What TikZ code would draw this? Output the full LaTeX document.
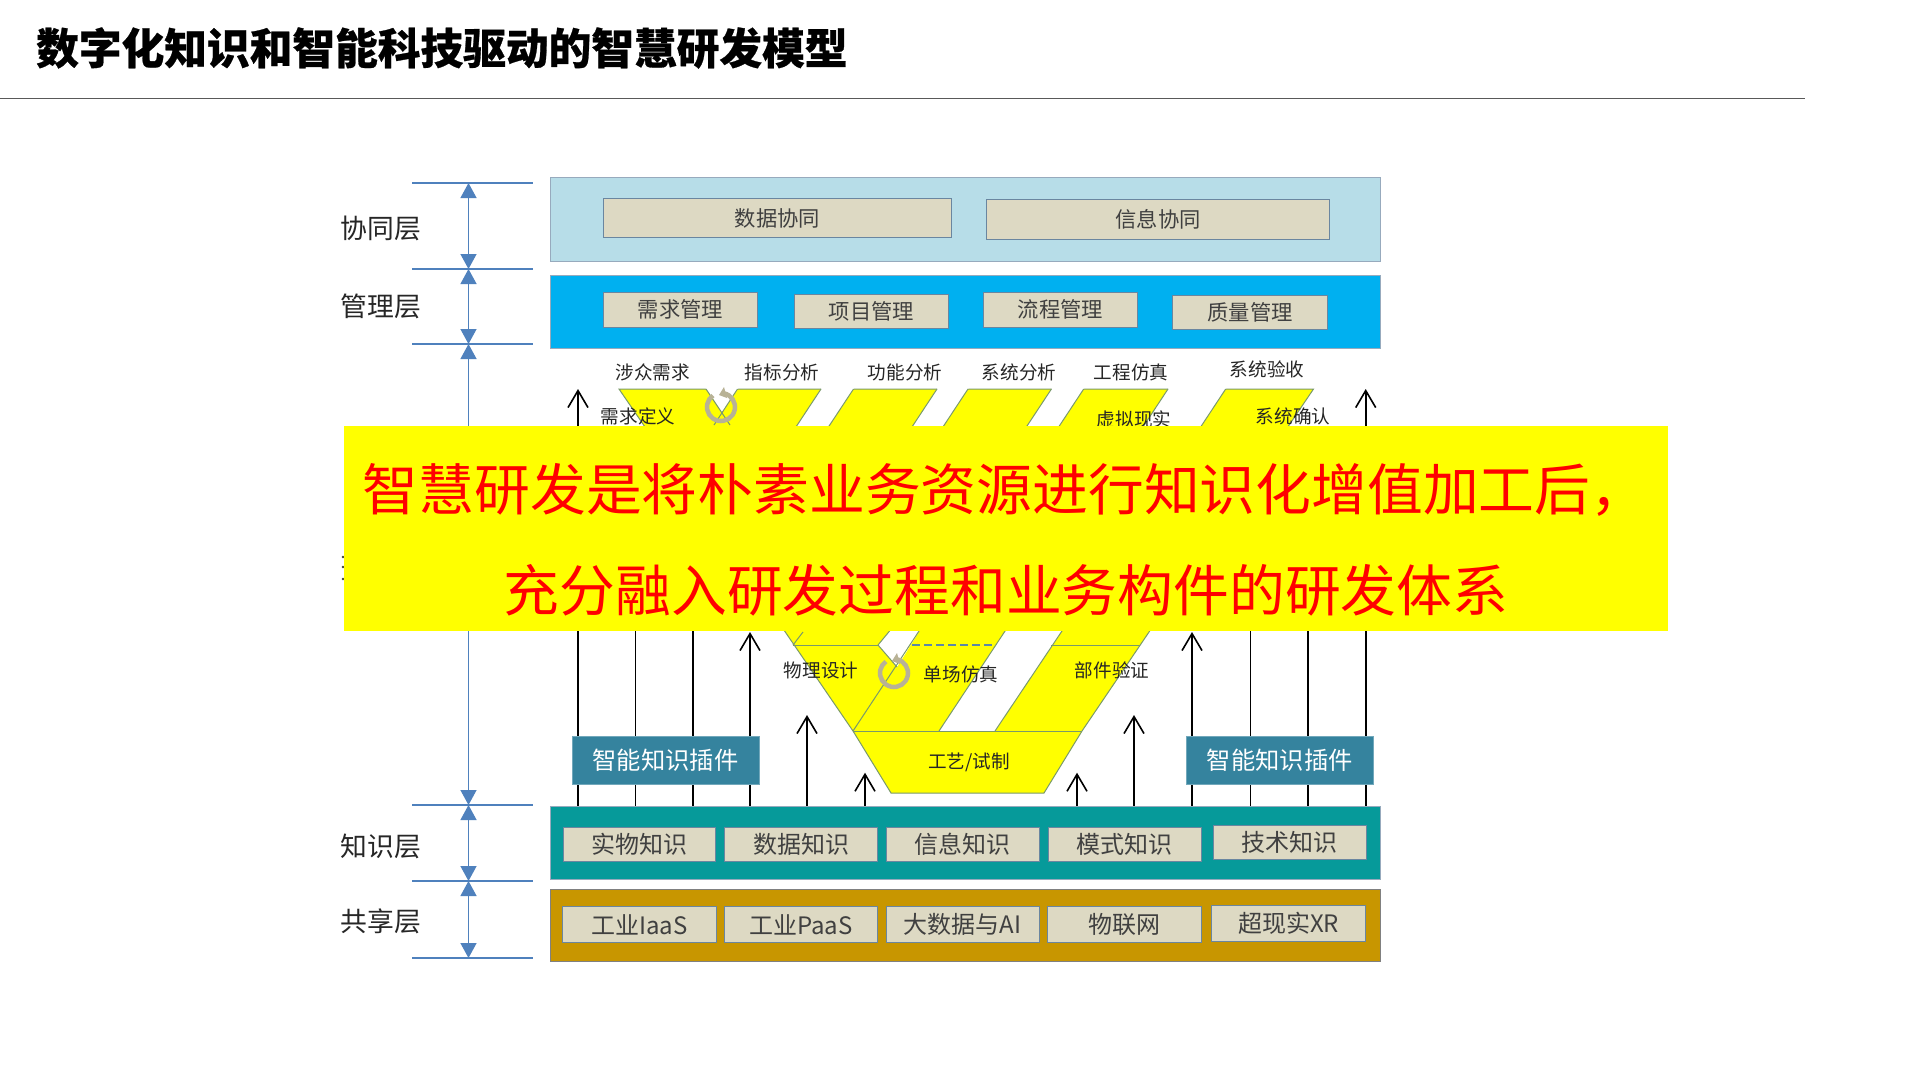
\documentclass[tikz,border=0pt]{standalone}
\usepackage{fontspec}
\setmainfont{Noto Sans CJK SC}
\usetikzlibrary{arrows.meta}
\definecolor{cobandc}{HTML}{B7DDE8}
\definecolor{mgmtbandc}{HTML}{00B0F0}
\definecolor{knowbandc}{HTML}{069A9A}
\definecolor{sharebandc}{HTML}{C89600}
\definecolor{itemc}{HTML}{DDD9C3}
\definecolor{itemedge}{HTML}{6A86A0}
\definecolor{rulerc}{HTML}{4F81BD}
\definecolor{plugc}{HTML}{35839E}
\definecolor{vedgec}{HTML}{7A9A6A}
\definecolor{ringc}{HTML}{B8B296}
\definecolor{dashc}{HTML}{5B87A8}
\definecolor{yellowc}{HTML}{FFFF00}
\tikzset{
  band/.style={draw=itemedge!70,line width=0.8pt,inner sep=0pt},
  itembox/.style={draw=itemedge,line width=0.9pt,fill=itemc,inner sep=0pt,text=black!75},
  smallfont/.style={font=\fontsize{21.3}{25}\selectfont},
  bigfont/.style={font=\fontsize{24}{28}\selectfont},
  steplabel/.style={inner sep=0pt,text=black!85,font=\fontsize{18.6}{22}\selectfont},
  layerlabel/.style={inner sep=0pt,text=black!85,font=\fontsize{26.8}{30}\selectfont},
  plugbox/.style={fill=plugc,draw=plugc!70!white,line width=0.8pt,inner sep=0pt,text=white,font=\fontsize{24.3}{28}\selectfont,minimum width=187pt,minimum height=47.5pt},
  rulerline/.style={draw=rulerc,line width=1.5pt},
  rulerarrow/.style={draw=rulerc,line width=1.3pt,{Triangle[length=15pt,width=16pt,fill=rulerc]}-{Triangle[length=15pt,width=16pt,fill=rulerc]}},
  uparrow/.style={draw=black,line width=1.6pt,-{Straight Barb[length=17pt,width=20pt,line width=1.6pt]}},
  vedge/.style={draw=vedgec,line width=1pt},
  ringline/.style={draw=ringc,line width=4.5pt},
  bigline/.style={inner sep=0pt,text=red,font=\fontsize{55.8}{60}\selectfont}
}
\begin{document}
\begin{tikzpicture}[x=1pt,y=-1pt]
\useasboundingbox (0,0) rectangle (1919,1080);
\fill[white] (0,0) rectangle (1919,1080);

\node[anchor=west,inner sep=0pt,font=\fontsize{42.7}{48}\selectfont\bfseries\addfontfeatures{FakeBold=0.6}] (title) at (36,48) {数字化知识和智能科技驱动的智慧研发模型};
\coordinate (ruleleft) at (0,98.7);
\coordinate (ruleright) at (1805,98.7);
\draw[draw=black!65,line width=1pt] (ruleleft) -- (ruleright);

\node[band,fill=cobandc,minimum width=830pt,minimum height=84pt] (coband) at (965.5,219) {};
\node[band,fill=mgmtbandc,minimum width=830pt,minimum height=73pt] (mgmtband) at (965.5,311.5) {};
\node[band,fill=knowbandc,minimum width=830pt,minimum height=73pt] (knowband) at (965.5,842.5) {};
\node[band,fill=sharebandc,draw=black!50,minimum width=830pt,minimum height=72pt] (shareband) at (965.5,925) {};

\node[itembox,smallfont,minimum width=348pt,minimum height=39pt] (codata) at (777.5,218) {数据协同};
\node[itembox,smallfont,minimum width=343pt,minimum height=40pt] (coinfo) at (1158,219) {信息协同};

\node[itembox,smallfont,minimum width=154pt,minimum height=35pt] (mgreq) at (680.5,309.5) {需求管理};
\node[itembox,smallfont,minimum width=154pt,minimum height=34pt] (mgproj) at (871.5,311) {项目管理};
\node[itembox,smallfont,minimum width=154pt,minimum height=35pt] (mgflow) at (1060.5,309.5) {流程管理};
\node[itembox,smallfont,minimum width=155pt,minimum height=34pt] (mgqual) at (1250,312) {质量管理};

\node[itembox,bigfont,minimum width=152pt,minimum height=34pt] (knthing) at (639.5,844.5) {实物知识};
\node[itembox,bigfont,minimum width=153pt,minimum height=34pt] (kndata) at (801,844.5) {数据知识};
\node[itembox,bigfont,minimum width=153pt,minimum height=34pt] (kninfo) at (962.5,844.5) {信息知识};
\node[itembox,bigfont,minimum width=153pt,minimum height=34pt] (knmode) at (1124.5,844.5) {模式知识};
\node[itembox,bigfont,minimum width=153pt,minimum height=34pt] (kntech) at (1289.5,842) {技术知识};

\node[itembox,bigfont,minimum width=154pt,minimum height=36pt] (shiaas) at (639.5,924.5) {工业IaaS};
\node[itembox,bigfont,minimum width=153pt,minimum height=36pt] (shpaas) at (801,924.5) {工业PaaS};
\node[itembox,bigfont,minimum width=153pt,minimum height=36pt] (shai) at (962.5,924.5) {大数据与AI};
\node[itembox,bigfont,minimum width=154pt,minimum height=36pt] (shiot) at (1124,924.5) {物联网};
\node[itembox,bigfont,minimum width=154pt,minimum height=36pt] (shxr) at (1288.5,923.5) {超现实XR};

\foreach \n/\y in {a/183,b/269,c/344,d/805,e/881,f/958}{
  \coordinate (rl\n) at (412,\y);
  \coordinate (rr\n) at (533,\y);
  \coordinate (rm\n) at (468.5,\y);
  \draw[rulerline] (rl\n) -- (rr\n);
}
\draw[rulerarrow] (rma) -- (rmb);
\draw[rulerarrow] (rmb) -- (rmc);
\draw[rulerarrow] (rmc) -- (rmd);
\draw[rulerarrow] (rmd) -- (rme);
\draw[rulerarrow] (rme) -- (rmf);

\node[layerlabel] (laycoop) at (381,228) {协同层};
\node[layerlabel] (laymgmt) at (381,306) {管理层};
\node[layerlabel] (layknow) at (381,846.5) {知识层};
\node[layerlabel] (layshare) at (381,921.5) {共享层};
\foreach \y in {557,567,579}
  \fill[black!75] (343,\y) circle (1.3pt);

\draw[vedge,fill=yellowc] (619,389) -- (1313.5,389) -- (1082,731) -- (1044,793) -- (891,793) -- (853,731) -- cycle;
\foreach \a/\b in {821/853.5,937/968,1051.4/1083.7,1168/1225.7}{
  \fill[white] (\a+1.3,387) -- (\b+1.3,387) -- (\b-33,439) -- (\a-33,439) -- cycle;
  \draw[vedge] (\a,389) -- ++(-33,50);
  \draw[vedge] (\b,389) -- ++(-33,50);
}
\fill[white] (705,387) -- (739,387) -- (722,412.7) -- cycle;
\draw[vedge] (706,389) -- (730,425);
\draw[vedge] (737.5,389) -- (714,425);

\fill[white] (878,645) -- (897,667) -- (925,622) -- (897,622) -- cycle;
\draw[vedge] (878,645) -- (897,667);
\draw[vedge] (878,645) -- (897,622);
\draw[vedge] (853,731) -- (925,622);
\draw[vedge] (793,645) -- (803,632);
\draw[vedge] (793,645) -- (878,645);
\fill[white] (1011,622) -- (1068,622) -- (995,731) -- (939,731) -- cycle;
\draw[vedge] (939,731) -- (1011,622);
\draw[vedge] (995,731) -- (1068,622);
\draw[vedge] (1051,645) -- (1140,645);
\draw[draw=dashc,line width=2.5pt,dash pattern=on 8pt off 4pt] (912,645) -- (994,645);
\draw[vedge] (853,731) -- (1082,731);

\node[steplabel] (stakeholder) at (652.6,372) {涉众需求};
\node[steplabel] (metric) at (782,372) {指标分析};
\node[steplabel] (funcana) at (905,372) {功能分析};
\node[steplabel] (sysana) at (1019,372) {系统分析};
\node[steplabel] (engsim) at (1131,372) {工程仿真};
\node[steplabel] (sysacc) at (1267,369) {系统验收};
\node[steplabel] (reqdef) at (638,416.5) {需求定义};
\node[steplabel] (vreal) at (1134,419.5) {虚拟现实};
\node[steplabel] (syscon) at (1293,416.5) {系统确认};
\node[steplabel] (physdes) at (821,670) {物理设计};
\node[steplabel] (unitsim) at (961,674) {单场仿真};
\node[steplabel] (partver) at (1112,670) {部件验证};
\node[steplabel] (craft) at (969,762) {工艺/试制};

\foreach \cx/\cy in {721/407,894/673}{
  \draw[ringline] (\cx+2.9,\cy-13.7) arc[start angle=78,end angle=-235,radius=14pt];
  \fill[ringc] (\cx+3,\cy-20) -- (\cx+6,\cy-9) -- (\cx-2,\cy-12) -- cycle;
}

\foreach \i/\x/\y in {a/578/389,b/635.5/500,c/692.7/500,d/750/632,e/807/715,f/865/772.7,g/1077/772.7,h/1134/715,i/1192/632,j/1250.6/500,k/1307.7/500,l/1365.7/389}{
  \coordinate (tip\i) at (\x,\y);
  \draw[uparrow] (knowband.north -| tip\i) -- (tip\i);
}

\node[plugbox] (plugleft) at (665.5,760.5) {智能知识插件\hspace{5pt}};
\node[plugbox] (plugright) at (1279.7,760.5) {智能知识插件\hspace{5pt}};

\node[fill=yellowc,inner sep=0pt,minimum width=1324pt,minimum height=205.5pt] (overlay) at (1006,528.5) {};
\node[bigline] (lineone) at (1004.5,490) {智慧研发是将朴素业务资源进行知识化增值加工后，};
\node[bigline] (linetwo) at (1006,590) {充分融入研发过程和业务构件的研发体系};
\end{tikzpicture}
\end{document}
